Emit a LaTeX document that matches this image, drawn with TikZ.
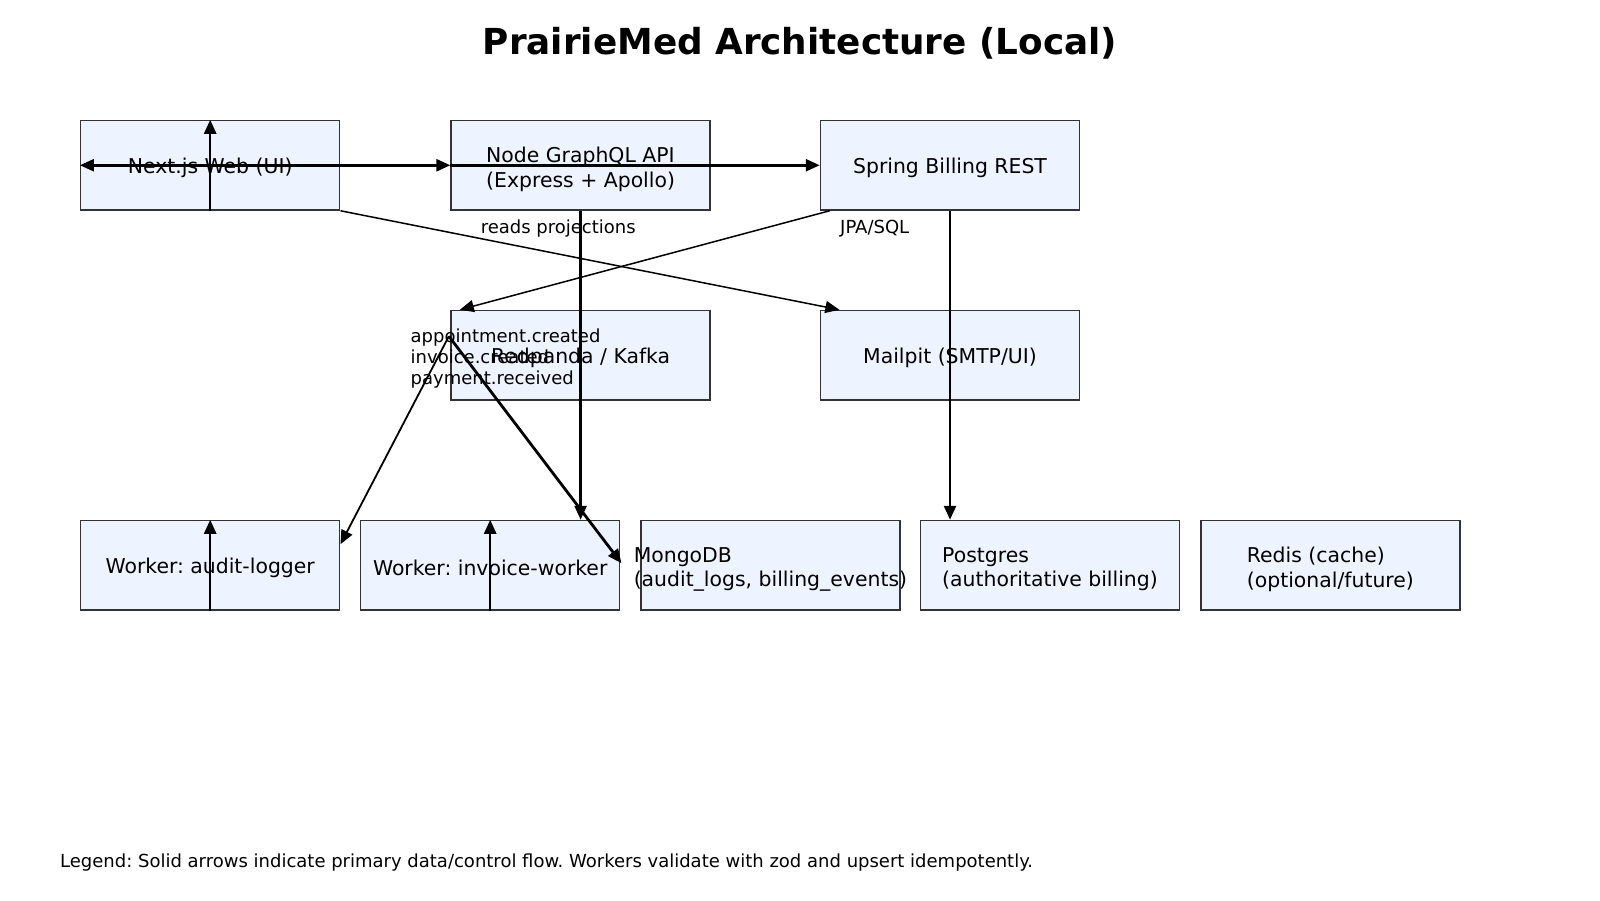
\documentclass[tikz,border=0pt]{standalone}
\usepackage{fontspec}
\setmainfont{DejaVu Sans}
\usetikzlibrary{arrows.meta,calc}
\definecolor{boxfill}{RGB}{238,244,255}
\definecolor{boxline}{RGB}{51,51,51}
\frenchspacing
\begin{document}
\begin{tikzpicture}[x=1pt,y=-1pt,
 box/.style={draw=boxline, fill=boxfill, line width=1.5pt, minimum width=259pt, minimum height=89.5pt, inner sep=0pt},
 boxtext/.style={inner sep=0pt, align=left, font=\fontsize{20.4}{24.5}\selectfont},
 arr/.style={-{Triangle[length=14pt,width=12pt]}, line width=2.5pt},
 thinarr/.style={arr, line width=1.5pt},
 lbl/.style={font=\fontsize{18}{21}\selectfont, inner sep=0pt, anchor=west, align=left}]
\useasboundingbox (0,0) rectangle (1600,900);
\node[font=\fontsize{35.8}{40}\selectfont\bfseries] (title) at (800,43) {PrairieMed Architecture (Local)};
% row 1
\node[box] (web) at (210.2,165.25) {};
\node[box] (api) at (580.6,165.25) {};
\node[box] (spring) at (950,165.25) {};
% row 2
\node[box] (rp) at (580.6,355.25) {};
\node[box] (mail) at (950,355.25) {};
% row 3
\node[box] (audit) at (210.2,565.25) {};
\node[box] (inv) at (490.2,565.25) {};
\node[box] (mongo) at (770.4,565.25) {};
\node[box] (pg) at (1050,565.25) {};
\node[box] (redis) at (1330.4,565.25) {};
% box texts
\node[boxtext] (webt) at ($(web)+(0,2.5)$) {Next.js Web (UI)};
\node[boxtext] (apit) at ($(api)+(0,4)$) {Node GraphQL API\\(Express + Apollo)};
\node[boxtext] (springt) at ($(spring)+(0,2.5)$) {Spring Billing REST};
\node[boxtext] (rpt) at ($(rp)+(0,2.5)$) {Redpanda / Kafka};
\node[boxtext] (mailt) at ($(mail)+(0,2.5)$) {Mailpit (SMTP/UI)};
\node[boxtext] (auditt) at ($(audit)+(0,2.5)$) {Worker: audit-logger};
\node[boxtext] (invt) at ($(inv)+(0,2.5)$) {Worker: invoice-worker};
\node[boxtext] (mongot) at ($(mongo)+(0,4)$) {MongoDB\\(audit\_logs, billing\_events)};
\node[boxtext] (pgt) at ($(pg)+(0,4)$) {Postgres\\(authoritative billing)};
\node[boxtext] (redist) at ($(redis)+(0,4)$) {Redis (cache)\\(optional/future)};
% labels
\node[lbl] (lreads) at (480.6,228.5) {reads projections};
\node[lbl] (ljpa) at (840,228.5) {JPA/SQL};
\node[lbl] (ltopics) at (410.5,359) {appointment.created\\invoice.created\\payment.received};
\node[lbl] (legend) at (60,862.5) {Legend: Solid arrows indicate primary data/control flow. Workers validate with zod and upsert idempotently.};
% connectors
\coordinate (rpsrc) at ($(rp.north west)+(-1.5,26.5)$);
\draw[arr] (web.center) -- (web.west);
\draw[arr] (web.center) -- (api.west);
\draw[arr] (api.west) -- (spring.west);
\draw[arr] (web.south) -- (web.north);
\draw[thinarr] (web.south east) -- ($(mail.north west)+(19.6,0)$);
\draw[thinarr] ($(spring.south west)+(10,0)$) -- ($(rp.north west)+(9.5,0)$);
\draw[arr] (api.south) -- (api.south |- inv.north);
\draw[arr] (spring.south) -- (spring.south |- pg.north);
\draw[arr, line width=1.8pt] (rpsrc) -- ($(audit.north east)+(0,24.5)$);
\draw[arr, line width=2.8pt] (rpsrc) -- ($(inv.east)+(1,-2)$);
\draw[arr] (audit.south) -- (audit.north);
\draw[arr] (inv.south) -- (inv.north);
\end{tikzpicture}
\end{document}
